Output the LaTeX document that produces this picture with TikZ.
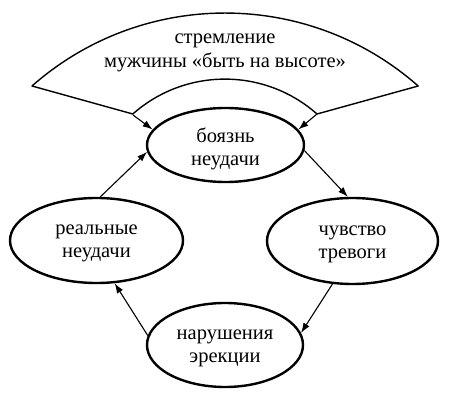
\documentclass[tikz,border=0pt]{standalone}
\usepackage{fontspec}
\setmainfont{Liberation Serif}
\usetikzlibrary{shapes.geometric,arrows.meta}
\newcommand\lnstrut{\rule[-3pt]{0pt}{19pt}}
\newcommand\topstrut{\rule[-3pt]{0pt}{26pt}}
\tikzset{
    state/.style={ellipse, draw, line width=2.4pt, inner sep=0pt, align=center,
        font=\fontsize{20.5}{23}\selectfont},
    arr/.style={line width=1.1pt, -{Latex[length=10pt,width=7pt]}},
}

\begin{document}
\begin{tikzpicture}[x=1pt,y=1pt]
    \useasboundingbox (0,0) rectangle (450,-401);

    % the four states
    \node[state, minimum width=157pt, minimum height=74pt] (fear) at (225.5,-145)
        {\topstrut боязнь\\неудачи\lnstrut};
    \node[state, minimum width=171pt, minimum height=86pt] (anxiety) at (352.5,-241)
        {\lnstrut чувство\\тревоги\lnstrut};
    \node[state, minimum width=156pt, minimum height=84pt] (erection) at (225,-345)
        {\lnstrut нарушения\\эрекции\lnstrut};
    \node[state, minimum width=173pt, minimum height=85pt] (failure) at (96.5,-240.5)
        {\lnstrut реальные\\неудачи\lnstrut};

    % cycle
    \draw[arr] (failure.85) -- (fear.185);
    \draw[arr] (fear.356) -- (anxiety.96);
    \draw[arr] (anxiety.245) -- (erection.9);
    \draw[arr] (erection.173) -- (failure.293);

    % arch on top
    \coordinate (arch outer left) at (32,-86);
    \coordinate (arch inner left) at (133,-115);
    \coordinate (arch inner right) at (317,-114);
    \draw[line width=1.4pt, line join=round] (arch outer left)
        arc[start angle=131.4, end angle=48.6, radius=292pt]
        -- (arch inner right)
        arc[start angle=48.5, end angle=131.5, radius=139pt]
        -- cycle;
    \node[font=\fontsize{20.5}{24}\selectfont, align=center] (press) at (225,-50)
        {\lnstrut стремление\\мужчины «быть на высоте»\lnstrut};
    \draw[arr] (arch inner left) -- (fear.168);
    \draw[arr] (arch inner right) -- (fear.12);
\end{tikzpicture}
\end{document}
